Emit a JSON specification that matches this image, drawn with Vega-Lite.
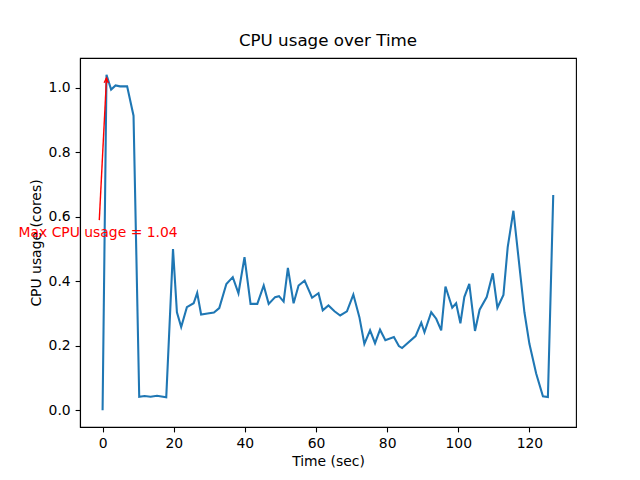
{
  "$schema": "https://vega.github.io/schema/vega-lite/v6.json",
  "width": 496,
  "height": 369,
  "autosize": {"type": "none"},
  "padding": {"left": 80, "top": 58, "right": 64, "bottom": 53},
  "background": "white",
  "title": {"text": "CPU usage over Time", "font": "DejaVu Sans", "fontSize": 16.7, "fontWeight": "normal", "color": "black", "offset": 8},
  "config": {
    "view": {"stroke": "black", "strokeWidth": 1.1},
    "axis": {
      "labelFont": "DejaVu Sans", "labelFontSize": 13.9, "labelColor": "black",
      "titleFont": "DejaVu Sans", "titleFontSize": 13.9, "titleFontWeight": "normal", "titleColor": "black",
      "tickColor": "black", "tickSize": 4.9, "tickWidth": 1.1,
      "domainColor": "black", "domainWidth": 1.1, "grid": false, "labelPadding": 4.9
    }
  },
  "datasets": {
    "cpu": [
      {"t": 0.0, "cpu": 0.0}, {"t": 1.1, "cpu": 1.041}, {"t": 2.4, "cpu": 0.995}, {"t": 3.65, "cpu": 1.008},
      {"t": 4.9, "cpu": 1.005}, {"t": 6.9, "cpu": 1.005}, {"t": 8.7, "cpu": 0.914}, {"t": 10.3, "cpu": 0.042},
      {"t": 11.8, "cpu": 0.044}, {"t": 13.5, "cpu": 0.042}, {"t": 15.3, "cpu": 0.045}, {"t": 17.9, "cpu": 0.04},
      {"t": 19.8, "cpu": 0.5}, {"t": 20.9, "cpu": 0.304}, {"t": 22.1, "cpu": 0.258}, {"t": 23.7, "cpu": 0.32},
      {"t": 25.6, "cpu": 0.332}, {"t": 26.6, "cpu": 0.364}, {"t": 27.7, "cpu": 0.297}, {"t": 29.5, "cpu": 0.3},
      {"t": 31.3, "cpu": 0.303}, {"t": 32.8, "cpu": 0.317}, {"t": 34.8, "cpu": 0.392}, {"t": 36.6, "cpu": 0.413},
      {"t": 38.2, "cpu": 0.363}, {"t": 39.9, "cpu": 0.475}, {"t": 41.6, "cpu": 0.33}, {"t": 43.5, "cpu": 0.33},
      {"t": 45.3, "cpu": 0.387}, {"t": 46.7, "cpu": 0.33}, {"t": 48.5, "cpu": 0.351}, {"t": 49.6, "cpu": 0.354},
      {"t": 50.9, "cpu": 0.337}, {"t": 52.1, "cpu": 0.442}, {"t": 53.7, "cpu": 0.332}, {"t": 55.1, "cpu": 0.387},
      {"t": 56.8, "cpu": 0.402}, {"t": 58.9, "cpu": 0.349}, {"t": 60.7, "cpu": 0.363}, {"t": 61.9, "cpu": 0.31},
      {"t": 63.5, "cpu": 0.325}, {"t": 65.2, "cpu": 0.307}, {"t": 66.8, "cpu": 0.294}, {"t": 68.7, "cpu": 0.307},
      {"t": 70.5, "cpu": 0.359}, {"t": 72.2, "cpu": 0.289}, {"t": 73.6, "cpu": 0.206}, {"t": 75.2, "cpu": 0.248},
      {"t": 76.6, "cpu": 0.208}, {"t": 78.0, "cpu": 0.25}, {"t": 79.5, "cpu": 0.217}, {"t": 81.9, "cpu": 0.227},
      {"t": 83.3, "cpu": 0.199}, {"t": 84.2, "cpu": 0.193}, {"t": 88.0, "cpu": 0.23}, {"t": 89.6, "cpu": 0.272},
      {"t": 90.5, "cpu": 0.242}, {"t": 92.4, "cpu": 0.304}, {"t": 93.8, "cpu": 0.284}, {"t": 95.2, "cpu": 0.248},
      {"t": 96.4, "cpu": 0.384}, {"t": 98.3, "cpu": 0.318}, {"t": 99.4, "cpu": 0.332}, {"t": 100.6, "cpu": 0.27},
      {"t": 101.7, "cpu": 0.351}, {"t": 103.1, "cpu": 0.392}, {"t": 104.7, "cpu": 0.246}, {"t": 106.0, "cpu": 0.312},
      {"t": 108.0, "cpu": 0.351}, {"t": 109.7, "cpu": 0.425}, {"t": 111.0, "cpu": 0.318}, {"t": 112.7, "cpu": 0.358},
      {"t": 113.9, "cpu": 0.506}, {"t": 115.5, "cpu": 0.619}, {"t": 118.6, "cpu": 0.304}, {"t": 120.0, "cpu": 0.206},
      {"t": 121.9, "cpu": 0.114}, {"t": 123.8, "cpu": 0.043}, {"t": 125.2, "cpu": 0.041}, {"t": 126.7, "cpu": 0.668}
    ],
    "note": [
      {"t": -1.27, "cpu": 0.537, "t2": 1.1, "cpu2": 1.031, "tt": -0.93, "ct": 0.59, "label": "Max CPU usage = 1.04"}
    ]
  },
  "layer": [
    {
      "data": {"name": "cpu"},
      "mark": {"type": "line", "color": "#1f77b4", "strokeWidth": 2.08, "clip": true},
      "encoding": {
        "x": {"field": "t", "type": "quantitative", "scale": {"domain": [-6.35, 133.1], "nice": false, "zero": false},
              "axis": {"title": "Time (sec)", "values": [0, 20, 40, 60, 80, 100, 120], "titlePadding": 4}},
        "y": {"field": "cpu", "type": "quantitative", "scale": {"domain": [-0.052, 1.093], "nice": false, "zero": false},
              "axis": {"title": "CPU usage (cores)", "values": [0, 0.2, 0.4, 0.6, 0.8, 1.0], "format": ".1f", "titlePadding": 5}}
      }
    },
    {
      "data": {"name": "note"},
      "mark": {"type": "rule", "color": "red", "strokeWidth": 1.4},
      "encoding": {
        "x": {"field": "tt", "type": "quantitative"},
        "y": {"field": "ct", "type": "quantitative"},
        "x2": {"field": "t2"},
        "y2": {"field": "cpu2"}
      }
    },
    {
      "data": {"name": "note"},
      "mark": {"type": "point", "shape": "M-0.6,1.4L0,0L0.6,1.4", "filled": false, "stroke": "red", "strokeWidth": 1.4, "size": 49, "angle": 3, "opacity": 1},
      "encoding": {
        "x": {"field": "t2", "type": "quantitative"},
        "y": {"field": "cpu2", "type": "quantitative"}
      }
    },
    {
      "data": {"name": "note"},
      "mark": {"type": "text", "color": "red", "font": "DejaVu Sans", "fontSize": 13.9, "align": "center", "baseline": "alphabetic"},
      "encoding": {
        "x": {"field": "t", "type": "quantitative"},
        "y": {"field": "cpu", "type": "quantitative"},
        "text": {"field": "label"}
      }
    }
  ]
}
